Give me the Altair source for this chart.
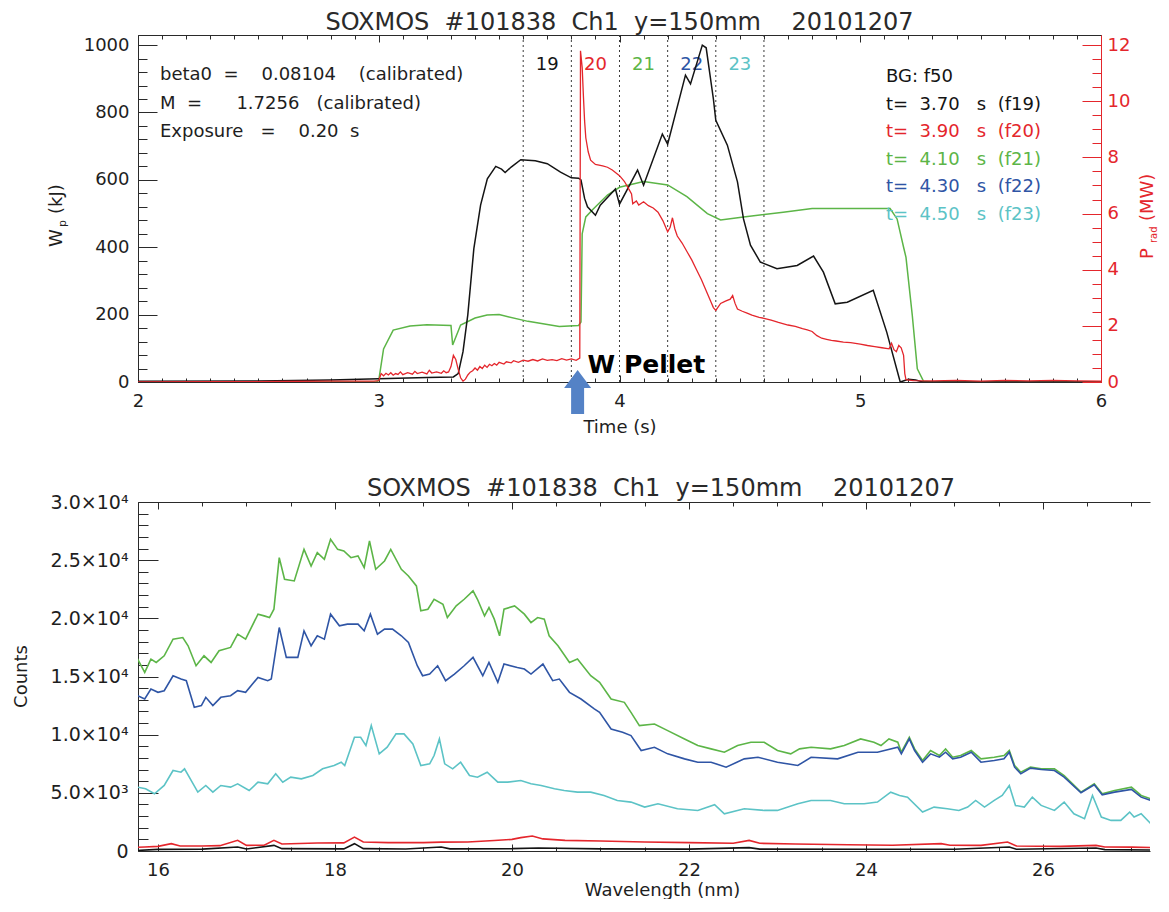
import altair as alt
import pandas as pd

# ---------------------------------------------------------------- texts
NB = "\u00a0"
TITLE = f"SOXMOS{NB*2}#101838{NB*2}Ch1{NB*2}y=150mm{NB*4}20101207"
notes = [
    f"beta0{NB*2}={NB*4}0.08104{NB*4}(calibrated)",
    f"M{NB*2}={NB*6}1.7256{NB*3}(calibrated)",
    f"Exposure{NB*3}={NB*4}0.20{NB*2}s",
]
legend_lines = [
    f"BG:{NB}f50",
    f"t={NB*2}3.70{NB*3}s{NB*2}(f19)",
    f"t={NB*2}3.90{NB*3}s{NB*2}(f20)",
    f"t={NB*2}4.10{NB*3}s{NB*2}(f21)",
    f"t={NB*2}4.30{NB*3}s{NB*2}(f22)",
    f"t={NB*2}4.50{NB*3}s{NB*2}(f23)",
]

# ---------------------------------------------------------------- top panel data
# stored energy W_p (kJ), black trace
black_wp = [(2.00, 2), (2.50, 3), (2.80, 6), (3.00, 10), (3.20, 13), (3.31, 15), (3.33, 25), (3.35, 90),
            (3.37, 200), (3.395, 396), (3.423, 525), (3.451, 603), (3.486, 640), (3.51, 632), (3.525, 622),
            (3.55, 638), (3.59, 660), (3.65, 657), (3.70, 648), (3.755, 623), (3.80, 606), (3.83, 605),
            (3.84, 600), (3.855, 545), (3.867, 520), (3.90, 495), (3.92, 525), (3.983, 573), (4.00, 528),
            (4.075, 629), (4.10, 584), (4.178, 736), (4.20, 706), (4.274, 911), (4.295, 885), (4.344, 1000),
            (4.36, 992), (4.39, 840), (4.40, 777), (4.448, 703), (4.49, 594), (4.515, 484), (4.544, 406),
            (4.585, 356), (4.654, 336), (4.738, 346), (4.806, 374), (4.847, 326), (4.896, 232), (4.946, 237),
            (5.054, 272), (5.11, 148), (5.166, 0), (5.20, 8), (5.23, 6), (5.26, 0), (6.00, 0)]
# green trace (left axis)
green_wp = [(2.00, 0), (2.99, 0), (3.00, 5), (3.02, 98), (3.06, 154), (3.13, 166), (3.20, 170), (3.30, 168),
            (3.307, 110), (3.34, 169), (3.40, 190), (3.45, 199), (3.50, 200), (3.62, 180), (3.75, 165),
            (3.83, 168), (3.84, 178), (3.845, 440), (3.86, 490), (3.89, 513), (3.95, 555), (4.00, 578),
            (4.10, 595), (4.20, 585), (4.28, 550), (4.365, 500), (4.42, 481), (4.515, 490), (4.68, 504),
            (4.80, 515), (5.00, 515), (5.124, 515), (5.153, 484), (5.18, 400), (5.19, 370), (5.216, 199),
            (5.237, 39), (5.263, 2), (5.30, 0), (6.00, 0)]
# radiated power P_rad (MW), red trace
red_prad = [(2.00, 0.00), (2.30, 0.01), (2.60, 0.02), (2.80, 0.03), (2.98, 0.03), (3.00, 0.05), (3.01, 0.30),
            (3.02, 0.22), (3.03, 0.31), (3.04, 0.25), (3.05, 0.33), (3.06, 0.24), (3.07, 0.30), (3.08, 0.27),
            (3.09, 0.36), (3.10, 0.26), (3.12, 0.33), (3.14, 0.28), (3.15, 0.38), (3.16, 0.30), (3.18, 0.35),
            (3.20, 0.29), (3.21, 0.42), (3.22, 0.32), (3.24, 0.36), (3.26, 0.31), (3.27, 0.40), (3.28, 0.33),
            (3.29, 0.36), (3.30, 0.55), (3.31, 0.95), (3.32, 0.80), (3.33, 0.45), (3.34, 0.15), (3.35, 0.03),
            (3.36, 0.10), (3.37, 0.25), (3.38, 0.35), (3.39, 0.40), (3.40, 0.50), (3.41, 0.42), (3.42, 0.55),
            (3.43, 0.48), (3.44, 0.60), (3.45, 0.52), (3.46, 0.63), (3.47, 0.58), (3.48, 0.66), (3.49, 0.60),
            (3.50, 0.70), (3.52, 0.64), (3.53, 0.72), (3.55, 0.68), (3.56, 0.76), (3.58, 0.70), (3.60, 0.78),
            (3.62, 0.74), (3.64, 0.80), (3.66, 0.75), (3.68, 0.82), (3.70, 0.77), (3.72, 0.80), (3.74, 0.76),
            (3.76, 0.83), (3.78, 0.78), (3.80, 0.82), (3.82, 0.77), (3.835, 0.85), (3.838, 11.8), (3.845, 11.2),
            (3.85, 10.2), (3.855, 9.3), (3.86, 8.7), (3.87, 8.2), (3.88, 7.9), (3.90, 7.75), (3.93, 7.7),
            (3.95, 7.65), (3.97, 7.55), (4.00, 7.35), (4.02, 7.15), (4.04, 6.85), (4.05, 6.7), (4.055, 6.35),
            (4.07, 6.45), (4.08, 6.30), (4.10, 6.42), (4.12, 6.28), (4.14, 6.20), (4.16, 6.05), (4.18, 5.75),
            (4.20, 5.35), (4.21, 5.5), (4.22, 5.85), (4.23, 5.45), (4.24, 5.20), (4.26, 4.95), (4.28, 4.65),
            (4.30, 4.35), (4.32, 4.00), (4.34, 3.65), (4.36, 3.25), (4.38, 2.85), (4.39, 2.65), (4.40, 2.55),
            (4.42, 2.80), (4.44, 2.88), (4.46, 2.95), (4.47, 3.08), (4.48, 2.80), (4.49, 2.60), (4.51, 2.52),
            (4.53, 2.45), (4.55, 2.38), (4.58, 2.30), (4.60, 2.27), (4.63, 2.20), (4.66, 2.12), (4.70, 2.03),
            (4.73, 1.98), (4.76, 1.90), (4.78, 1.86), (4.80, 1.80), (4.82, 1.65), (4.84, 1.56), (4.86, 1.52),
            (4.88, 1.48), (4.90, 1.46), (4.93, 1.42), (4.96, 1.40), (5.00, 1.35), (5.03, 1.30), (5.06, 1.26),
            (5.09, 1.22), (5.12, 1.18), (5.13, 1.38), (5.14, 1.15), (5.15, 1.08), (5.16, 1.30), (5.17, 1.22),
            (5.18, 0.95), (5.185, 0.30), (5.19, 0.08), (5.22, 0.05), (5.30, 0.04), (5.40, 0.06), (5.50, 0.03),
            (5.60, 0.06), (5.70, 0.04), (5.80, 0.06), (5.90, 0.04), (6.00, 0.03)]

frame_edges = [3.6, 3.8, 4.0, 4.2, 4.4, 4.6]
frame_mid = [3.7, 3.9, 4.1, 4.3, 4.5]
frame_names = ["19", "20", "21", "22", "23"]
pellet_t = [3.826]

# ---------------------------------------------------------------- bottom panel data (nm, counts)
spec_black = [(15.70, 0), (15.80, 60), (16.0, 143), (16.5, 160), (16.9, 343), (17.0, 170), (17.31, 486),
              (17.4, 200), (18.1, 180), (18.22, 630), (18.32, 200), (18.8, 170), (19.2, 340), (19.3, 180),
              (20.0, 200), (20.3, 260), (21.0, 180), (22.0, 160), (22.68, 290), (22.8, 160), (24.0, 150),
              (25.0, 150), (25.62, 340), (25.7, 150), (26.6, 260), (26.7, 120), (27.43, 80)]
spec_red = [(15.70, 300), (15.85, 343), (16.0, 400), (16.15, 630), (16.25, 430), (16.5, 430), (16.7, 460),
            (16.9, 915), (17.0, 480), (17.2, 500), (17.31, 915), (17.4, 600), (17.8, 690), (18.1, 700),
            (18.22, 1200), (18.32, 780), (18.6, 720), (19.0, 720), (19.2, 760), (19.5, 770), (19.8, 900),
            (20.0, 1000), (20.1, 1150), (20.23, 1290), (20.35, 1040), (20.6, 915), (21.0, 860), (21.5, 770),
            (22.0, 720), (22.5, 660), (22.68, 915), (22.8, 660), (23.2, 600), (23.8, 540), (24.3, 490),
            (24.85, 630), (24.95, 490), (25.3, 480), (25.6, 770), (25.7, 430), (26.2, 400), (26.6, 480),
            (26.7, 350), (27.0, 330), (27.43, 260)]
spec_green = [(15.70, 16780), (15.77, 16500), (15.85, 15350), (15.92, 16500), (15.98, 16210), (16.07, 16780),
              (16.17, 18210), (16.28, 18350), (16.34, 17640), (16.43, 15925), (16.52, 16780), (16.60, 16210),
              (16.69, 17210), (16.82, 17500), (16.90, 18640), (16.99, 18210), (17.13, 20360), (17.20, 20210),
              (17.26, 20070), (17.31, 20785), (17.37, 25215), (17.43, 23360), (17.54, 23215), (17.65, 25930),
              (17.73, 24500), (17.80, 25645), (17.88, 25070), (17.95, 26790), (18.03, 25930), (18.10, 25790),
              (18.18, 25215), (18.26, 25360), (18.33, 24360), (18.39, 26645), (18.46, 24215), (18.56, 24930),
              (18.63, 25930), (18.75, 24215), (18.83, 23645), (18.92, 22785), (18.97, 20640), (19.05, 20785),
              (19.12, 21640), (19.22, 21215), (19.27, 20070), (19.37, 21070), (19.46, 21640), (19.56, 22360),
              (19.61, 21640), (19.69, 20215), (19.74, 20930), (19.80, 19930), (19.86, 18500), (19.91, 20785),
              (20.03, 21070), (20.14, 20360), (20.215, 19640), (20.29, 20070), (20.365, 19930), (20.42, 18500),
              (20.52, 17640), (20.65, 16210), (20.74, 16500), (20.89, 15070), (20.99, 14500), (21.12, 13070),
              (21.27, 12780), (21.345, 11920), (21.44, 10780), (21.61, 10920), (21.76, 10350), (21.95, 9635),
              (22.10, 9063), (22.25, 8777), (22.40, 8490), (22.55, 9063), (22.70, 9350), (22.85, 9350),
              (23.00, 8635), (23.15, 8350), (23.25, 8777), (23.38, 8920), (23.60, 8777), (23.755, 9063),
              (23.94, 9635), (24.09, 9350), (24.17, 9063), (24.26, 9635), (24.36, 9350), (24.40, 8490),
              (24.49, 9778), (24.55, 8777), (24.64, 7776), (24.73, 8635), (24.83, 8205), (24.90, 8777),
              (24.98, 8062), (25.07, 8205), (25.19, 8635), (25.30, 7920), (25.45, 8062), (25.56, 8205),
              (25.62, 8635), (25.68, 7348), (25.75, 6776), (25.86, 7205), (25.98, 7062), (26.13, 7062),
              (26.24, 6490), (26.43, 5060), (26.58, 5775), (26.67, 4918), (26.81, 5203), (27.00, 5489),
              (27.11, 4775), (27.22, 4489), (27.33, 4203), (27.43, 4060)]
spec_blue = [(15.70, 13780), (15.77, 13350), (15.85, 13065), (15.92, 13920), (16.00, 13640), (16.07, 13780),
             (16.17, 15065), (16.26, 14780), (16.32, 14640), (16.41, 12350), (16.49, 12495), (16.54, 13210),
             (16.62, 12495), (16.71, 13210), (16.82, 13350), (16.90, 13780), (16.99, 13640), (17.13, 14925),
             (17.24, 14640), (17.28, 14780), (17.37, 19210), (17.45, 16640), (17.58, 16640), (17.65, 18925),
             (17.73, 17640), (17.80, 18500), (17.88, 18210), (17.95, 20360), (18.05, 19355), (18.14, 19500),
             (18.26, 19500), (18.33, 18925), (18.40, 20360), (18.48, 18640), (18.56, 19070), (18.65, 19070),
             (18.75, 18500), (18.83, 17925), (18.93, 15925), (18.99, 15065), (19.07, 15210), (19.16, 15925),
             (19.25, 14640), (19.35, 15210), (19.46, 15925), (19.56, 16640), (19.67, 15065), (19.74, 16210),
             (19.84, 14495), (19.91, 16070), (20.06, 15780), (20.14, 15640), (20.215, 15210), (20.35, 16070),
             (20.46, 14640), (20.535, 14780), (20.65, 13640), (20.78, 13065), (20.93, 12210), (20.99, 11920),
             (21.12, 10490), (21.25, 10210), (21.345, 9920), (21.46, 8635), (21.61, 8920), (21.76, 8350),
             (21.95, 7920), (22.10, 7635), (22.25, 7635), (22.42, 7205), (22.625, 7920), (22.78, 8062),
             (23.00, 7635), (23.23, 7348), (23.38, 8062), (23.68, 7920), (23.91, 8490), (24.13, 8490),
             (24.36, 8920), (24.40, 8350), (24.49, 9635), (24.55, 8635), (24.64, 7635), (24.73, 8350),
             (24.83, 8062), (24.90, 8490), (24.98, 7920), (25.07, 8062), (25.19, 8490), (25.30, 7635),
             (25.45, 7776), (25.56, 7920), (25.62, 8490), (25.68, 7205), (25.75, 6633), (25.86, 7120),
             (25.98, 7005), (26.13, 6920), (26.24, 6347), (26.43, 5003), (26.58, 5690), (26.67, 4830),
             (26.81, 5060), (27.00, 5290), (27.11, 4630), (27.22, 4346), (27.33, 4060), (27.43, 3774)]
spec_cyan = [(15.70, 5060), (15.77, 5490), (15.86, 5346), (15.96, 4918), (16.07, 5632), (16.17, 6919),
             (16.26, 6776), (16.30, 7062), (16.45, 5060), (16.54, 5632), (16.62, 5060), (16.71, 5632),
             (16.82, 5490), (16.90, 5775), (17.03, 5203), (17.13, 5918), (17.24, 5775), (17.33, 6633),
             (17.41, 5918), (17.50, 6347), (17.62, 6204), (17.75, 6490), (17.86, 7062), (17.99, 7348),
             (18.07, 7634), (18.11, 7348), (18.22, 9778), (18.29, 9778), (18.35, 9063), (18.41, 10778),
             (18.50, 8348), (18.59, 8920), (18.69, 10064), (18.78, 10064), (18.88, 9206), (18.97, 7348),
             (19.07, 7491), (19.12, 8205), (19.18, 9635), (19.24, 7491), (19.33, 7062), (19.42, 7634),
             (19.52, 6490), (19.61, 6347), (19.72, 6776), (19.84, 5918), (19.95, 5918), (20.10, 6061),
             (20.215, 5775), (20.33, 5632), (20.48, 5346), (20.59, 5203), (20.74, 5060), (20.89, 5060),
             (21.04, 4775), (21.19, 4346), (21.345, 4203), (21.50, 3774), (21.65, 4060), (21.87, 3631),
             (22.10, 3488), (22.29, 3974), (22.40, 3202), (22.625, 3631), (22.85, 3488), (23.00, 3488),
             (23.23, 4060), (23.38, 4346), (23.60, 4346), (23.755, 4060), (23.98, 4060), (24.13, 4203),
             (24.28, 5060), (24.38, 4775), (24.47, 4632), (24.64, 3345), (24.77, 3774), (24.92, 3631),
             (25.05, 3488), (25.15, 3774), (25.24, 4346), (25.34, 3774), (25.45, 4346), (25.54, 4775),
             (25.62, 5632), (25.69, 3917), (25.79, 3774), (25.88, 4632), (25.98, 3917), (26.13, 3488),
             (26.24, 4203), (26.35, 3202), (26.47, 2773), (26.56, 4775), (26.66, 2916), (26.77, 2630),
             (26.88, 2630), (26.98, 3345), (27.03, 2916), (27.11, 3202), (27.22, 2344), (27.33, 2058),
             (27.43, 1916)]

# axis tick values / labels
t_major = [2, 3, 4, 5, 6]
t_minor = [round(2 + 0.1 * i, 1) for i in range(41)]
wp_major = [0, 200, 400, 600, 800, 1000]
wp_minor = [40 * i for i in range(26)]
pr_major = [0, 2, 4, 6, 8, 10, 12]
pr_minor = [0.5 * i for i in range(25)]
wl_major = [16, 18, 20, 22, 24, 26]
wl_minor = [16 + 0.5 * i for i in range(23)]
ct_major = [0, 5000, 10000, 15000, 20000, 25000, 30000]
ct_labels = ["0", "5.0\u00d710\u00b3", "1.0\u00d710\u2074", "1.5\u00d710\u2074", "2.0\u00d710\u2074",
             "2.5\u00d710\u2074", "3.0\u00d710\u2074"]
ct_minor = [1000 * i for i in range(31)]

# ---------------------------------------------------------------- style
FONT = "DejaVu Sans"
INK = "#1e1e1e"
AX = "#2a2a2a"
C_BLACK = "#141414"
C_RED = "#e4262c"
C_GREEN = "#5cb547"
C_BLUE = "#2f55a5"
C_CYAN = "#5cc3c6"
ARROW = "#5482c6"

W1, H1 = 963, 347
W2, H2 = 1012, 349
T_DOM = [2, 6]
WP_DOM = [0, 1030]
PR_DOM = [0, 12.36]
L_DOM = [15.774, 27.21]
C_DOM = [0, 30000]

ONE = pd.DataFrame({"k": [0]})


def pairs(p, a, b):
    return pd.DataFrame(p, columns=[a, b])


def qx(field, dom, axis=None):
    return alt.X(field, type="quantitative", scale=alt.Scale(domain=dom, nice=False, zero=False), axis=axis)


def qy(field, dom, axis=None):
    return alt.Y(field, type="quantitative", scale=alt.Scale(domain=dom, nice=False, zero=False), axis=axis)


def lab_axis(orient, values, title=None, color=AX, lcolor=INK, pad=9, size=18, **kw):
    return alt.Axis(orient=orient, values=values, grid=False, ticks=False, tickSize=0, domain=True,
                    domainColor=color, domainWidth=1, labels=True, labelFont=FONT, labelFontSize=size,
                    labelColor=lcolor, labelPadding=pad, labelFlush=False, labelOverlap=False,
                    title=title, titleFont=FONT, titleFontSize=18, titleFontWeight="normal",
                    titleColor=INK, **kw)


def tick_axis(orient, values, size, color=AX):
    return alt.Axis(orient=orient, values=values, grid=False, ticks=True, tickSize=size, tickColor=color,
                    tickWidth=1, offset=-size, domain=False, labels=False, title=None)


def line_axis(orient, color=AX):
    return alt.Axis(orient=orient, grid=False, ticks=False, labels=False, domain=True, domainColor=color,
                    domainWidth=1, title=None)


def txt(s, x, y, size=18, color=INK, angle=None, align="left", weight="normal"):
    kw = dict(text=s, font=FONT, fontSize=size, color=color, align=align, baseline="middle",
              fontWeight=weight)
    if angle is not None:
        kw["angle"] = angle
    return alt.Chart(ONE).mark_text(**kw).encode(x=alt.value(x), y=alt.value(y))


# ---------------------------------------------------------------- top panel
dom_top = pd.DataFrame({"t": T_DOM, "wp": WP_DOM, "pr": PR_DOM})


def carrier_top(xa, yfield, ydom, ya):
    return alt.Chart(dom_top).mark_point(opacity=0).encode(x=qx("t", T_DOM, xa), y=qy(yfield, ydom, ya))


top_layers = [
    carrier_top(lab_axis("bottom", t_major, "Time (s)", pad=10, titlePadding=8), "wp", WP_DOM,
                lab_axis("left", wp_major, pad=9, format="d")),
    carrier_top(tick_axis("bottom", t_major, 7), "wp", WP_DOM, tick_axis("left", wp_major, 19)),
    carrier_top(tick_axis("bottom", t_minor, 4), "wp", WP_DOM, tick_axis("left", wp_minor, 9)),
    carrier_top(line_axis("top"), "pr", PR_DOM,
                lab_axis("right", pr_major, color=C_RED, lcolor=C_RED, pad=6, format="d")),
    carrier_top(tick_axis("top", t_major, 7), "pr", PR_DOM, tick_axis("right", pr_major, 19, C_RED)),
    carrier_top(tick_axis("top", t_minor, 4), "pr", PR_DOM, tick_axis("right", pr_minor, 9, C_RED)),
]

top_layers.append(
    alt.Chart(pd.DataFrame({"t": frame_edges})).mark_rule(color="#3a3a3a", strokeDash=[2, 3], strokeWidth=1)
    .encode(x=qx("t", T_DOM), y=alt.value(0), y2=alt.value(H1))
)
top_layers.append(
    alt.Chart(pd.DataFrame({"t": frame_mid, "frame": frame_names}))
    .mark_text(font=FONT, fontSize=18, baseline="middle", align="center")
    .encode(x=qx("t", T_DOM), y=alt.value(30), text="frame:N",
            color=alt.Color("frame:N", scale=alt.Scale(domain=frame_names,
                                                       range=[C_BLACK, C_RED, C_GREEN, C_BLUE, C_CYAN]),
                            legend=None))
)
top_layers.append(
    alt.Chart(pairs(green_wp, "t", "v")).mark_line(color=C_GREEN, strokeWidth=1.5, clip=True)
    .encode(x=qx("t", T_DOM), y=qy("v", WP_DOM))
)
top_layers.append(
    alt.Chart(pairs(black_wp, "t", "v")).mark_line(color=C_BLACK, strokeWidth=1.5, clip=True)
    .encode(x=qx("t", T_DOM), y=qy("v", WP_DOM))
)
top_layers.append(
    alt.Chart(pairs(red_prad, "t", "v")).mark_line(color=C_RED, strokeWidth=1.3, clip=True)
    .encode(x=qx("t", T_DOM), y=qy("v", PR_DOM))
)

# W pellet arrow + label
pel = pd.DataFrame({"t": pellet_t})
top_layers.append(
    alt.Chart(pel).mark_rule(color=ARROW, strokeWidth=13, strokeCap="butt")
    .encode(x=qx("t", T_DOM), y=alt.value(H1 + 4), y2=alt.value(H1 + 32))
)
top_layers.append(
    alt.Chart(pel).mark_point(shape="M0,-0.667L1,0.667L-1,0.667Z", size=729, filled=True, color=ARROW,
                              opacity=1, strokeWidth=0)
    .encode(x=qx("t", T_DOM), y=alt.value(H1 - 3))
)
top_layers.append(
    alt.Chart(pel).mark_text(text="W Pellet", font=FONT, fontSize=25, fontWeight="bold", color="#000000",
                             align="left", baseline="middle", dx=10)
    .encode(x=qx("t", T_DOM), y=alt.value(330))
)

# notes and legend text
for i, s in enumerate(notes):
    top_layers.append(txt(s, 22, 40 + 28.5 * i))
leg_colors = [C_BLACK, C_BLACK, C_RED, C_GREEN, C_BLUE, C_CYAN]
for i, (s, c) in enumerate(zip(legend_lines, leg_colors)):
    top_layers.append(txt(s, 748, 42 + 27.6 * i, color=c))

# axis titles with subscripts
top_layers += [
    txt("W", -81, 212, size=18, angle=270),
    txt("p", -75, 192, size=11, angle=270),
    txt("(kJ)", -81, 179, size=18, angle=270),
    txt("P", 1010, 224, size=18, angle=270, color=C_RED),
    txt("rad", 1016, 208, size=10, angle=270, color=C_RED),
    txt("(MW)", 1010, 186, size=18, angle=270, color=C_RED),
]

top = alt.layer(*top_layers).resolve_scale(x="independent", y="independent").properties(
    width=W1, height=H1,
    title=alt.TitleParams(TITLE, font=FONT, fontSize=24, fontWeight="normal", color="#2a2a2a", offset=-3),
)

# ---------------------------------------------------------------- bottom panel
dom_bot = pd.DataFrame({"w": L_DOM, "c": C_DOM})
ct_expr = " : ".join(f"datum.value == {v} ? '{s}'" for v, s in zip(ct_major, ct_labels)) + " : ''"


def carrier_bot(xa, ya):
    return alt.Chart(dom_bot).mark_point(opacity=0).encode(x=qx("w", L_DOM, xa), y=qy("c", C_DOM, ya))


bot_layers = [
    carrier_bot(lab_axis("bottom", wl_major, "Wavelength (nm)", pad=10, titlePadding=2, titleX=524),
                lab_axis("left", ct_major, pad=10, size=19, labelExpr=ct_expr)),
    carrier_bot(tick_axis("bottom", wl_major, 7), tick_axis("left", ct_major, 20)),
    carrier_bot(tick_axis("bottom", wl_minor, 4), tick_axis("left", ct_minor, 10)),
    carrier_bot(line_axis("top"), None),
    carrier_bot(tick_axis("top", wl_major, 7), None),
    carrier_bot(tick_axis("top", wl_minor, 4), None),
]
for series, col in [(spec_black, C_BLACK), (spec_red, C_RED), (spec_green, C_GREEN),
                    (spec_blue, C_BLUE), (spec_cyan, C_CYAN)]:
    bot_layers.append(
        alt.Chart(pairs(series, "w", "c")).mark_line(color=col, strokeWidth=1.6, clip=True)
        .encode(x=qx("w", L_DOM), y=qy("c", C_DOM))
    )
bot_layers.append(txt("Counts", -116, H2 / 2, size=18, angle=270, align="center"))

bottom = alt.layer(*bot_layers).resolve_scale(x="independent", y="independent").properties(
    width=W2, height=H2,
    title=alt.TitleParams(TITLE, font=FONT, fontSize=24, fontWeight="normal", color="#2a2a2a",
                          offset=-8, dx=17),
)

chart = alt.vconcat(top, bottom, spacing=41).properties(
    padding={"left": 5, "top": 3, "right": 0, "bottom": 0}
).configure_view(stroke=None)

chart.save("out.html", embed_options={"renderer": "svg", "actions": False})
